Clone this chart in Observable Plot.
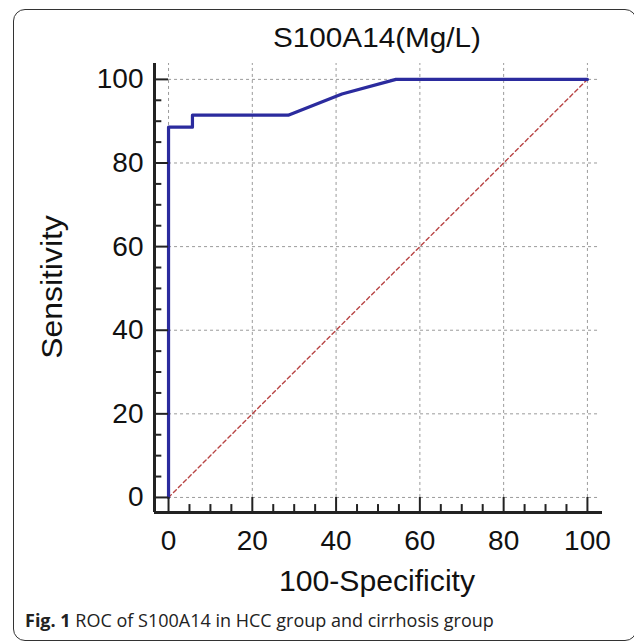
<!DOCTYPE html>
<html>
<head>
<meta charset="utf-8">
<script src="https://cdn.jsdelivr.net/npm/d3@7"></script>
<script src="https://cdn.jsdelivr.net/npm/@observablehq/plot@0.6"></script>
<style>
  html, body { margin: 0; padding: 0; background: #fff; }
  #wrap { position: relative; width: 634px; height: 643px; overflow: hidden; font-family: "Liberation Sans", Arial, sans-serif; }
  #frame { position: absolute; left: 13px; top: 9px; width: 624px; height: 632px; border: 1.8px solid #333; border-radius: 12px; box-sizing: border-box; }
  #chart { position: absolute; left: 0; top: 0; }
  .lbl { position: absolute; color: #111; white-space: nowrap; line-height: 1.15; }
  #title { font-size: 27px; left: 377px; top: 23px; transform: translateX(-50%) scaleX(1.1); }
  #xtitle { font-size: 29px; left: 377px; top: 565px; transform: translateX(-50%) scaleX(1.04); }
  #ytitle { font-size: 29px; left: 53px; top: 287px; transform: translate(-50%, -50%) rotate(-90deg) scaleX(1.1); }
  #caption { font-family: "Open Sans", "Noto Sans", sans-serif; font-size: 18px; line-height: 1.2; left: 25px; top: 610px; color: #222; }
  #caption b { font-weight: 700; }
</style>
</head>
<body>
<div id="wrap">
  <div id="frame"></div>
  <div id="chart"></div>
  <div class="lbl" id="title">S100A14(Mg/L)</div>
  <div class="lbl" id="ytitle">Sensitivity</div>
  <div class="lbl" id="xtitle">100-Specificity</div>
  <div class="lbl" id="caption"><b>Fig. 1</b> ROC of S100A14 in HCC group and cirrhosis group</div>
</div>
<script>
// ROC curve (100-Specificity, Sensitivity)
const fpr = [0, 0, 5.71, 5.71, 28.57, 41.4, 54.29, 100];
const tpr = [0, 88.57, 88.57, 91.43, 91.43, 96.5, 100, 100];
// reference diagonal
const diagX = [0, 100];
const diagY = [0, 100];
// ticks
const xTicks = [0, 20, 40, 60, 80, 100];
const yTicks = [0, 20, 40, 60, 80, 100];
const xMinor = [5, 10, 15, 25, 30, 35, 45, 50, 55, 65, 70, 75, 85, 90, 95];
const yMinor = [5, 10, 15, 25, 30, 35, 45, 50, 55, 65, 70, 75, 85, 90, 95];

const roc = fpr.map((x, i) => ({x, y: tpr[i]}));
const diag = diagX.map((x, i) => ({x, y: diagY[i]}));

const X0 = -3.35, X1 = 103.6, Y0 = -3.6, Y1 = 103.8;
const gridCol = "#9a9a9a";
const axisCol = "#222";

const chart = Plot.plot({
  width: 634,
  height: 610,
  marginLeft: 154,
  marginRight: 32,
  marginTop: 63,
  marginBottom: 98,
  style: {fontFamily: "'Liberation Sans', Arial, sans-serif", background: "transparent", color: "#111"},
  x: {domain: [X0, X1]},
  y: {domain: [Y0, Y1]},
  marks: [
    // grid
    Plot.ruleX(xTicks, {x: d => d, y1: 0, y2: Y1, stroke: gridCol, strokeWidth: 1, strokeDasharray: "3,3"}),
    Plot.ruleY(yTicks, {y: d => d, x1: 0, x2: 103, stroke: gridCol, strokeWidth: 1, strokeDasharray: "3,3"}),
    // diagonal
    Plot.line(diag, {x: "x", y: "y", stroke: "#b84545", strokeWidth: 1.4, strokeDasharray: "4,3"}),
    // ROC
    Plot.line(roc, {x: "x", y: "y", stroke: "#2b2b9e", strokeWidth: 3.2, curve: "linear"}),
    // spines
    Plot.ruleX([X0], {y1: Y0, y2: Y1, stroke: axisCol, strokeWidth: 3}),
    Plot.ruleY([Y0], {x1: X0, x2: X1, stroke: axisCol, strokeWidth: 3}),
    // inward ticks
    Plot.ruleX(xTicks, {x: d => d, y1: Y0, y2: 0, stroke: axisCol, strokeWidth: 2}),
    Plot.ruleX(xMinor, {x: d => d, y1: Y0, y2: -1.7, stroke: axisCol, strokeWidth: 2}),
    Plot.ruleY(yTicks, {y: d => d, x1: X0, x2: 0, stroke: axisCol, strokeWidth: 2}),
    Plot.ruleY(yMinor, {y: d => d, x1: X0, x2: -1.6, stroke: axisCol, strokeWidth: 2}),
    // tick labels
    Plot.axisX(xTicks, {tickSize: 0, tickPadding: 18, fontSize: 28, label: null, fill: "#111"}),
    Plot.axisY(yTicks, {tickSize: 0, tickPadding: 11, fontSize: 28, label: null, fill: "#111"})
  ]
});
document.getElementById("chart").appendChild(chart);
</script>
</body>
</html>
